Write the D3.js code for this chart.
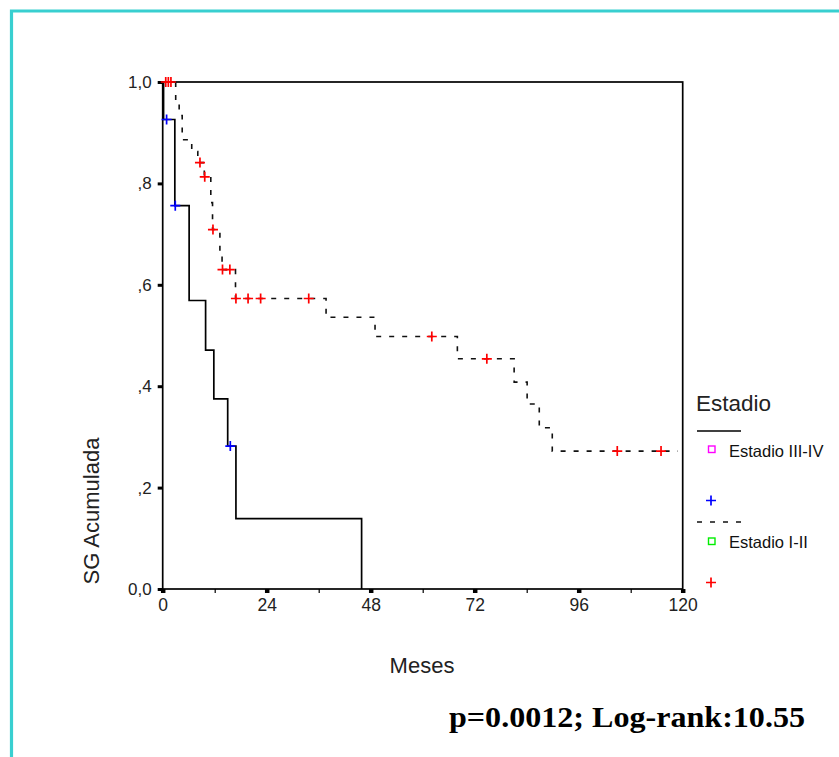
<!DOCTYPE html>
<html>
<head>
<meta charset="utf-8">
<script src="https://cdn.jsdelivr.net/npm/d3@7"></script>
<style>
  body { margin: 0; background: #fff; }
  svg { display: block; }
  text { font-family: "Liberation Sans", Arial, sans-serif; fill: #111; }
  text.stat { font-family: "Liberation Serif", "Times New Roman", serif; font-weight: bold; fill: #000; }
</style>
</head>
<body>
<svg id="chart" width="839" height="757"></svg>
<script>
// Estadio III-IV (solid) : step times (months) and cumulative survival after each step
const stageHighTimes = [0, 0.2, 2.8, 6.1, 9.9, 11.8, 15.0, 16.9, 45.9];
const stageHighSurv  = [1.0, 0.926, 0.756, 0.569, 0.471, 0.375, 0.282, 0.139, 0.0];
const stageHighCensor = [0.9, 2.9, 15.6];

// Estadio I-II (dashed)
const stageLowTimes = [0, 3.0, 3.8, 4.5, 6.7, 8.1, 9.6, 11.1, 11.5, 13.2, 13.7, 16.8, 37.7, 49.0, 68.0, 81.1, 84.1, 86.9, 89.9, 118.9];
const stageLowSurv  = [1.0, 0.956, 0.934, 0.886, 0.863, 0.841, 0.813, 0.762, 0.709, 0.654, 0.630, 0.573, 0.536, 0.498, 0.454, 0.408, 0.365, 0.318, 0.272, 0.272];
const stageLowCensor = [0.7, 1.3, 1.9, 8.6, 9.7, 11.6, 13.8, 15.5, 16.9, 19.7, 22.6, 33.7, 62.1, 74.8, 104.9, 115.0];

const xMajorTicks = [0, 24, 48, 72, 96, 120];
const xMinorTicks = [12, 36, 60, 84, 108];
const yTicks = [0, 0.2, 0.4, 0.6, 0.8, 1.0];
const yTickLabels = ["0,0", ",2", ",4", ",6", ",8", "1,0"];

const legendLabels = ["Estadio III-IV", "Estadio I-II"];

const svg = d3.select("#chart");

// cyan frame (top + left only)
svg.append("path")
  .attr("d", "M11.5,757 L11.5,11 L839,11")
  .attr("fill", "none")
  .attr("stroke", "#38cfd0")
  .attr("stroke-width", 3.2);

const x = d3.scaleLinear().domain([0, 120]).range([162.7, 682.7]);
const y = d3.scaleLinear().domain([0, 1]).range([589, 82]);

const g = svg.append("g");

// y axis
const yAxis = g.append("g")
  .attr("transform", `translate(${x(0)},0)`)
  .call(d3.axisLeft(y).tickValues(yTicks).tickSize(5).tickPadding(6)
    .tickFormat((d, i) => yTickLabels[i]));
yAxis.select(".domain").remove();
yAxis.selectAll(".tick line").attr("stroke", "#000").attr("stroke-width", 3);
yAxis.selectAll(".tick text").attr("font-size", 17).style("fill", "#222");

// x axis
const xAxis = g.append("g")
  .attr("transform", `translate(0,${y(0)})`)
  .call(d3.axisBottom(x).tickValues(xMajorTicks).tickSize(4).tickPadding(6));
xAxis.select(".domain").remove();
xAxis.selectAll(".tick line").attr("stroke", "#000").attr("stroke-width", 4.5);
xAxis.selectAll(".tick text").attr("font-size", 17.5).style("fill", "#222");

g.append("g")
  .attr("transform", `translate(0,${y(0)})`)
  .call(d3.axisBottom(x).tickValues(xMinorTicks).tickSize(4).tickFormat(""))
  .call(a => a.select(".domain").remove())
  .selectAll(".tick line").attr("stroke", "#000").attr("stroke-width", 1.2);

// plot frame
g.append("rect")
  .attr("x", x(0)).attr("y", y(1))
  .attr("width", x(120) - x(0)).attr("height", y(0) - y(1))
  .attr("fill", "none")
  .attr("stroke", "#000")
  .attr("stroke-width", 1.7);

const stepLine = d3.line()
  .x(d => x(d[0]))
  .y(d => y(d[1]))
  .curve(d3.curveStepAfter);

function survAt(times, surv, t) {
  let v = surv[0];
  for (let i = 0; i < times.length; i++) {
    if (times[i] <= t) v = surv[i];
  }
  return v;
}

g.append("path")
  .datum(d3.zip(stageLowTimes, stageLowSurv))
  .attr("d", stepLine)
  .attr("fill", "none")
  .attr("stroke", "#111")
  .attr("stroke-width", 1.6)
  .attr("stroke-dasharray", "5,8");

g.append("path")
  .datum(d3.zip(stageHighTimes, stageHighSurv))
  .attr("d", stepLine)
  .attr("fill", "none")
  .attr("stroke", "#000")
  .attr("stroke-width", 1.7);

function cross(sel, cx, cy, color) {
  sel.append("path")
    .attr("d", `M${cx - 5},${cy} H${cx + 5} M${cx},${cy - 5} V${cy + 5}`)
    .attr("stroke", color)
    .attr("stroke-width", 1.7)
    .attr("fill", "none");
}

stageLowCensor.forEach(t => cross(g, x(t), y(survAt(stageLowTimes, stageLowSurv, t)), "#ff0000"));
stageHighCensor.forEach(t => cross(g, x(t), y(survAt(stageHighTimes, stageHighSurv, t)), "#0000ff"));

// axis titles
svg.append("text")
  .attr("transform", "translate(99,511) rotate(-90)")
  .attr("text-anchor", "middle")
  .attr("font-size", 22)
  .style("fill", "#222")
  .text("SG Acumulada");

svg.append("text")
  .attr("x", 422).attr("y", 673)
  .attr("text-anchor", "middle")
  .attr("font-size", 22)
  .style("fill", "#222")
  .text("Meses");

// legend
const lg = svg.append("g");
lg.append("text").attr("x", 696).attr("y", 411).attr("font-size", 22.5).style("fill", "#222").text("Estadio");

lg.append("line").attr("x1", 697).attr("x2", 741).attr("y1", 431).attr("y2", 431)
  .attr("stroke", "#000").attr("stroke-width", 1.6);
lg.append("rect").attr("x", 708.5).attr("y", 446).attr("width", 6.5).attr("height", 6.5)
  .attr("fill", "none").attr("stroke", "#ff00ff").attr("stroke-width", 1.4);
lg.append("text").attr("x", 729).attr("y", 457).attr("font-size", 16.5).text(legendLabels[0]);
cross(lg, 711, 500.5, "#0000ff");

lg.append("line").attr("x1", 697).attr("x2", 741).attr("y1", 522).attr("y2", 522)
  .attr("stroke", "#111").attr("stroke-width", 1.6).attr("stroke-dasharray", "5,8");
lg.append("rect").attr("x", 708.5).attr("y", 538).attr("width", 6.5).attr("height", 6.5)
  .attr("fill", "none").attr("stroke", "#00ee00").attr("stroke-width", 1.4);
lg.append("text").attr("x", 729).attr("y", 548).attr("font-size", 16.5).text(legendLabels[1]);
cross(lg, 711, 582.5, "#ff0000");

// test statistic
svg.append("text")
  .attr("class", "stat")
  .attr("x", 449).attr("y", 727)
  .attr("font-size", 30)
  .attr("textLength", 356)
  .attr("lengthAdjust", "spacingAndGlyphs")
  .text("p=0.0012; Log-rank:10.55");
</script>
</body>
</html>
